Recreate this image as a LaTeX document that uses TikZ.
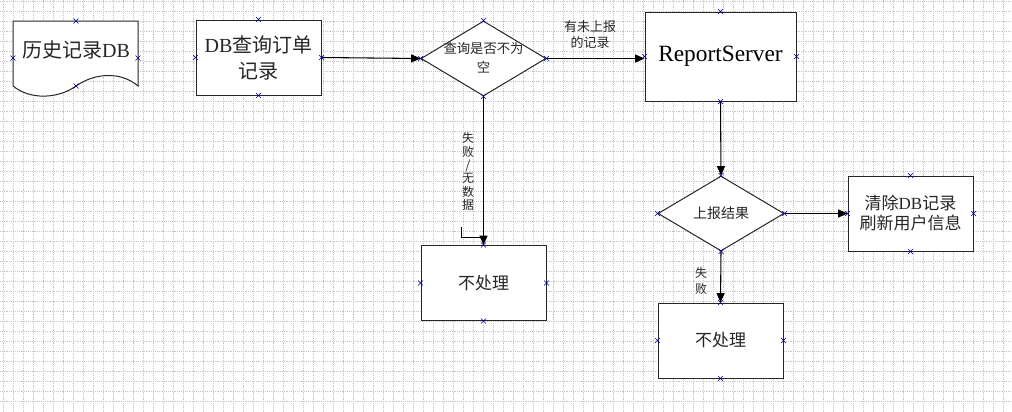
\documentclass[tikz,border=0pt]{standalone}
\usepackage{fontspec}
\setmainfont{Liberation Serif}
\newfontfamily\cjk{Noto Sans CJK SC}
\usetikzlibrary{arrows.meta,shapes.geometric}
\newcommand{\lat}[1]{{\rmfamily #1}}
\newcommand{\xmk}[1]{\draw[xmark] (#1) ++(-2.5,-2.5) -- ++(5,5) ++(0,-5) -- ++(-5,5);}

\begin{document}
\begin{tikzpicture}[
    x=0.75pt, y=-0.75pt,
    gridline/.style={gray!45, densely dotted, line width=0.4pt},
    box/.style={draw=black!85, fill=white, line width=0.75pt, minimum width=93.75pt, minimum height=56.25pt, inner sep=0pt},
    decision/.style={box, diamond, aspect=1.67},
    txt/.style={font=\cjk\fontsize{12.75}{15}\selectfont, text=black!85, align=center, inner sep=1pt},
    bigtxt/.style={txt, font=\cjk\fontsize{15}{19.5}\selectfont},
    lbl/.style={txt, font=\cjk\fontsize{9}{10}\selectfont},
    flow/.style={draw=black, line width=0.8pt, -{Triangle[length=7pt,width=6pt]}},
    xmark/.style={draw=blue!60!black, line width=0.5pt},
]
\useasboundingbox (0,0) rectangle (1012,411);
\foreach \gx in {3,13,...,1003} \draw[gridline] (\gx,0) -- (\gx,411);
\foreach \gy in {1,11,...,401} \draw[gridline] (0,\gy) -- (1012,\gy);

\draw[box] (13,21) -- (138,21) -- (138,86) .. controls (122,72) and (96,72) .. (76,86) .. controls (58,99) and (30,100) .. (13,86) -- cycle;
\node[bigtxt] (hist) at (76,50) {历史记录\lat{DB}};

\node[box, bigtxt] (query) at (258.5,57.5) {\lat{DB}查询订单\\记录};
\node[decision] (check) at (483.5,58.5) {};
\node[txt, font=\cjk\fontsize{10}{14}\selectfont] (checktxt) at (483.5,58) {查询是否不为\\空};
\node[box, minimum width=113.25pt, minimum height=66.75pt, font=\rmfamily\fontsize{17.5}{20}\selectfont] (report) at (720.5,56.5) {ReportServer};
\node[box, txt] (none1) at (483.5,283) {不处理};
\node[decision, txt, font=\cjk\fontsize{10.5}{12}\selectfont, minimum width=94.5pt] (result) at (721,213.5) {上报结果};
\node[box, txt] (clear) at (910.5,213.5) {清除\lat{DB}记录\\刷新用户信息};
\node[box, txt] (none2) at (720.5,340.5) {不处理};

\draw[flow] (query.east) -- (check.west);
\draw[flow] (check.east) -- (check.east -| report.west);
\node[lbl, font=\cjk\fontsize{9.75}{12}\selectfont] (unreported) at (590,35) {有未上报\\的记录};
\draw[flow] (check.south) -- (none1.north);
\coordinate (stub) at (461,227);
\coordinate (stubend) at (483.5,237);
\draw[line width=0.6pt] (stub) |- (stubend);
\node[lbl] (fail1) at (468,171.5) {失\\败\\/\\无\\数\\据};
\draw[flow] (report.south) -- (result.north);
\draw[flow] (result.east) -- (clear.west);
\draw[flow] (result.south) -- (none2.north);
\node[lbl, font=\cjk\fontsize{9}{12}\selectfont] (fail2) at (701,281) {失\\败};

\foreach \n in {query,check,report,none1,result,clear,none2}
  \foreach \a in {north,south,east,west} {\xmk{\n.\a}}
\foreach \p in {{76,21},{13,58},{138,58},{76,86}} {\xmk{\p}}
\end{tikzpicture}
\end{document}
